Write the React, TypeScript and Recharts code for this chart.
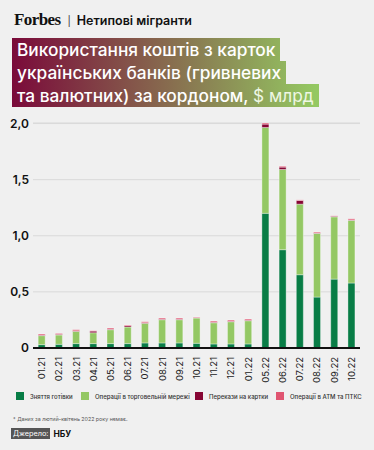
import { BarChart, Bar, XAxis, YAxis, CartesianGrid, ReferenceLine } from 'recharts'

const MONTHS = ['01.21', '02.21', '03.21', '04.21', '05.21', '06.21', '07.21', '08.21', '09.21', '10.21', '11.21', '12.21', '01.22', '05.22', '06.22', '07.22', '08.22', '09.22', '10.22']

// $ bn
const CASH = [0.03, 0.033, 0.039, 0.039, 0.039, 0.039, 0.045, 0.045, 0.045, 0.042, 0.036, 0.036, 0.036, 1.2, 0.876, 0.653, 0.454, 0.614, 0.579]
const RETAIL = [0.08, 0.083, 0.109, 0.097, 0.124, 0.148, 0.175, 0.207, 0.207, 0.225, 0.189, 0.198, 0.207, 0.765, 0.715, 0.629, 0.567, 0.555, 0.558]
const TRANSFERS = [0.005, 0.006, 0.005, 0.015, 0.005, 0.012, 0.005, 0.005, 0.005, 0.004, 0.005, 0.005, 0.005, 0.03, 0.021, 0.033, 0.004, 0.006, 0.004]
const ATM = [0.01, 0.008, 0.01, 0.003, 0.01, 0.006, 0.009, 0.01, 0.01, 0.005, 0.01, 0.01, 0.01, 0.01, 0.008, 0.005, 0.008, 0.003, 0.01]

const Y_TICKS = [0, 0.5, 1, 1.5, 2]

const SERIES = [
  { key: 'cash', name: 'Зняття готівки', color: '#087d46' },
  { key: 'retail', name: 'Операції в торговельній мережі', color: '#94c864' },
  { key: 'transfers', name: 'Перекази на картки', color: '#870634' },
  { key: 'atm', name: 'Операції в АТМ та ПТКС', color: '#e05571' },
]
const LEGEND_X = [16, 81, 195, 276]

const FONT = 'Inter, Roboto, sans-serif'

const data = MONTHS.map((m, i) => ({
  month: m,
  cash: CASH[i],
  retail: RETAIL[i],
  transfers: TRANSFERS[i],
  atm: ATM[i],
}))

function fmtY(v: number) {
  return v === 0 ? '0' : v.toFixed(1).replace('.', ',')
}

function MonthTick(props: any) {
  const { x, y, payload } = props
  return (
    <text
      x={0}
      y={0}
      transform={`translate(${x + 3.5},${y + 1}) rotate(-90)`}
      textAnchor="end"
      fontSize={9.5}
      fill="#222"
      fontFamily={FONT}
    >
      {payload.value}
    </text>
  )
}

const titleLine = {
  display: 'inline-block',
  padding: '0 5px',
  height: 23,
  lineHeight: '23px',
  background: 'linear-gradient(90deg, #7a0a3a 0px, #94c862 303px)',
  backgroundSize: '303px 100%',
  backgroundRepeat: 'no-repeat',
  backgroundColor: '#94c862',
} as const

export default function App() {
  return (
    <div style={{ position: 'fixed', left: 0, top: 0, width: 374, height: 450, background: '#f0f0f0', fontFamily: FONT, overflow: 'hidden' }}>
      <div style={{ position: 'absolute', left: 14, top: 10, display: 'flex', alignItems: 'baseline', whiteSpace: 'nowrap' }}>
        <span style={{ fontFamily: '"Liberation Serif", serif', fontWeight: 700, fontSize: 17, letterSpacing: -0.6, color: '#111' }}>Forbes</span>
        <span style={{ fontSize: 10, color: '#333', margin: '0 6px 0 7px' }}>|</span>
        <span style={{ fontSize: 12.5, fontWeight: 600, color: '#111' }}>Нетипові мігранти</span>
      </div>

      <div style={{ position: 'absolute', left: 12, top: 38, color: '#fff', fontSize: 17.3, fontWeight: 500, whiteSpace: 'nowrap', lineHeight: 0 }}>
        <div style={titleLine}>Використання коштів з карток</div>
        <br />
        <div style={titleLine}>українських банків (гривневих</div>
        <br />
        <div style={titleLine}>
          та валютних) за кордоном, <span style={{ color: '#eef7e4', fontWeight: 400 }}>$ млрд</span>
        </div>
      </div>

      <div style={{ position: 'absolute', left: 0, top: 110 }}>
        <BarChart width={374} height={285} data={data} margin={{ top: 13, right: 14, left: 0, bottom: 17 }} barCategoryGap="30%">
          <CartesianGrid vertical={false} stroke="#d9d9d9" strokeWidth={1} />
          <YAxis
            domain={[0, 2]}
            ticks={Y_TICKS}
            tickFormatter={fmtY}
            width={33}
            axisLine={false}
            tickLine={false}
            tickSize={0}
            tickMargin={4}
            tick={{ fontSize: 12, fill: '#111', fontFamily: FONT, fontWeight: 600 }}
          />
          <XAxis dataKey="month" interval={0} height={30} axisLine={false} tickLine={false} tick={<MonthTick />} />
          {SERIES.map(s => (
            <Bar
              key={s.key}
              dataKey={s.key}
              stackId="a"
              fill={s.color}
              stroke="#ffffff"
              strokeOpacity={0.35}
              strokeWidth={1}
              isAnimationActive={false}
            />
          ))}
          <ReferenceLine y={0} stroke="#111" strokeWidth={1.8} />
        </BarChart>
      </div>

      {SERIES.map((s, i) => (
        <div key={s.key} style={{ position: 'absolute', left: LEGEND_X[i], top: 392, display: 'flex', alignItems: 'center', whiteSpace: 'nowrap' }}>
          <span style={{ width: 8, height: 8, background: s.color, display: 'inline-block', marginRight: 6 }} />
          <span style={{ fontSize: 6, color: '#333', fontWeight: 500 }}>{s.name}</span>
        </div>
      ))}

      <div style={{ position: 'absolute', left: 13, top: 416, fontSize: 5.3, color: '#555', whiteSpace: 'nowrap' }}>
        * Даних за лютий–квітень 2022 року немає.
      </div>

      <div style={{ position: 'absolute', left: 11, top: 428, display: 'flex', alignItems: 'center', whiteSpace: 'nowrap' }}>
        <span style={{ background: '#555', color: '#fff', fontSize: 7.3, padding: '1px 2px', lineHeight: '9px' }}>Джерело:</span>
        <span style={{ fontSize: 8.5, fontWeight: 700, color: '#111', marginLeft: 3 }}>НБУ</span>
      </div>
    </div>
  )
}
